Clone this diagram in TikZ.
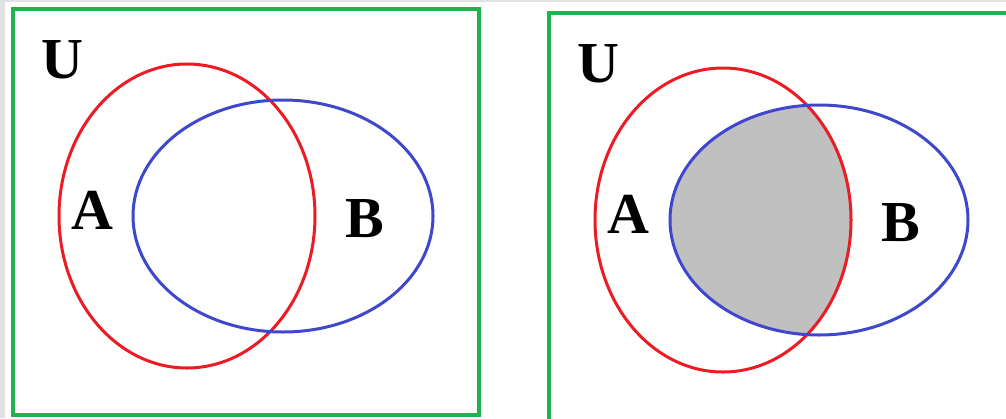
\documentclass[tikz,border=0pt]{standalone}
\usepackage{fontspec}
\setmainfont{Liberation Serif}
\definecolor{boxgreen}{RGB}{34,177,76}
\definecolor{setred}{RGB}{237,28,36}
\definecolor{setblue}{RGB}{63,72,204}
\definecolor{regiongray}{RGB}{192,192,192}
\definecolor{edgegray}{RGB}{226,226,226}
\tikzset{
  frame/.style={draw=boxgreen, line width=4pt},
  seta/.style={draw=setred, line width=3pt},
  setb/.style={draw=setblue, line width=3pt},
  lbl/.style={font=\fontsize{58}{58}\selectfont\bfseries, inner sep=0pt, text=black}
}
\begin{document}
\begin{tikzpicture}[x=1pt,y=-1pt]
\useasboundingbox (0,0) rectangle (1006,418);
\fill[white] (0,0) rectangle (1006,418);
\fill[edgegray] (0,0) rectangle (1006,2);
\fill[edgegray] (0,0) rectangle (5,418);
\begin{scope}
\clip (0,0) rectangle (1006,418);
% left panel
\draw[frame] (13,9) rectangle (479,415);
\draw[seta] (187,216) ellipse [x radius=128, y radius=152];
\draw[setb] (283,216) ellipse [x radius=150, y radius=116];
\node[lbl] (uL) at (62,60) {U};
\node[lbl] (aL) at (92,210) {A};
\node[lbl] (bL) at (365,219) {B};
% right panel
\draw[frame] (549,13) rectangle (1012,424);
\begin{scope}
\clip (723,220) ellipse [x radius=128, y radius=152];
\fill[fill=regiongray] (819,220) ellipse [x radius=149, y radius=115];
\end{scope}
\draw[seta] (723,220) ellipse [x radius=128, y radius=152];
\draw[setb] (819,220) ellipse [x radius=149, y radius=115];
\node[lbl] (uR) at (598,64) {U};
\node[lbl] (aR) at (628,214) {A};
\node[lbl] (bR) at (901,223) {B};
\end{scope}
\end{tikzpicture}
\end{document}
